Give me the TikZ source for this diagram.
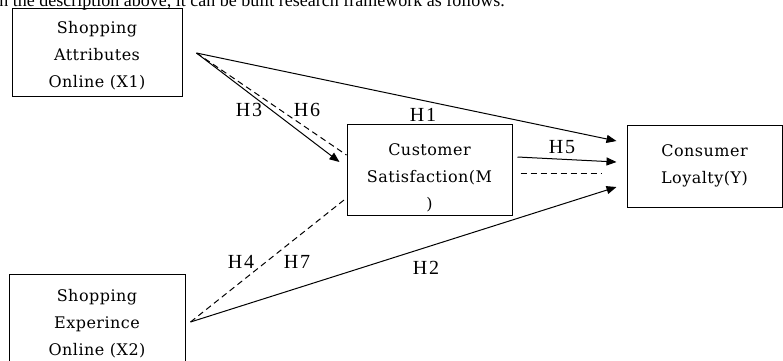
\documentclass[tikz,border=0pt]{standalone}
\usepackage{fontspec}
\setmainfont{Liberation Serif}
\newfontfamily\boxfont[LetterSpace=3]{DejaVu Serif}
\newfontfamily\hypfont[LetterSpace=10]{Liberation Serif}
\usetikzlibrary{arrows.meta, positioning, calc}

\begin{document}
\begin{tikzpicture}[x=1pt, y=-1pt,
  box/.style={draw, rectangle, line width=1pt, align=center, font=\boxfont\fontsize{16}{27}\selectfont},
  hyp/.style={font=\hypfont\fontsize{20}{20}\selectfont},
  arr/.style={-{Triangle[length=10pt,width=8pt]}, line width=1pt},
  dashline/.style={line width=1pt, dash pattern=on 6pt off 4pt}]
\useasboundingbox (0,0) rectangle (783,360);
\clip (0,0) rectangle (783,360);

% Text above the figure
\node[font=\fontsize{18}{20}\selectfont, anchor=base east, inner sep=0] (intro) at (505,6)
  {n the description above, it can be built research framework as follows.};

% Variables
\node[box, minimum width=170pt, minimum height=88pt] (attr) at (97,52)
  {\rule{0pt}{20pt}Shopping\\Attributes\\Online (X1)};
\node[box, minimum width=176pt, minimum height=100pt, below=177pt of attr] (exper)
  {Shopping\\Experince\\Online (X2)};
\node[box, minimum width=165pt, minimum height=84pt] (satis) at (429.5,170)
  {\rule{0pt}{27pt}Customer\\Satisfaction(M\\)};
\node[box, minimum width=155pt, minimum height=82pt] (loyal) at (704.5,166)
  {Consumer\\Loyalty(Y)};

% Start points of the paths
\coordinate (attrout) at ($(attr.east)+(14,1)$);
\coordinate (experout) at ($(exper.east)+(5,-2)$);

% Paths
\draw[arr] (attrout) -- ($(loyal.west)+(-10,-25)$);
\draw[arr] (attrout) -- ($(satis.west)+(-7,-8)$);
\draw[dashline] (attrout) -- ($(satis.west)+(0,-15)$);
\draw[arr] ($(satis.east)+(5,-13)$) -- ($(loyal.west)+(-10,-4)$);
\draw[dashline] ($(satis.east)+(8,3)$) -- ($(loyal.west)+(-25,7)$);
\draw[arr] (experout) -- ($(loyal.west)+(-10,21)$);
\draw[dashline] (experout) -- ($(satis.west)+(0,28)$);

% Hypotheses
\node[hyp] (h1) at (423,115) {H1};
\node[hyp] (h3) at (249,110) {H3};
\node[hyp] (h6) at (307,110) {H6};
\node[hyp] (h5) at (562,147) {H5};
\node[hyp] (h4) at (241,262) {H4};
\node[hyp] (h7) at (297,262) {H7};
\node[hyp] (h2) at (426,268) {H2};
\end{tikzpicture}
\end{document}
